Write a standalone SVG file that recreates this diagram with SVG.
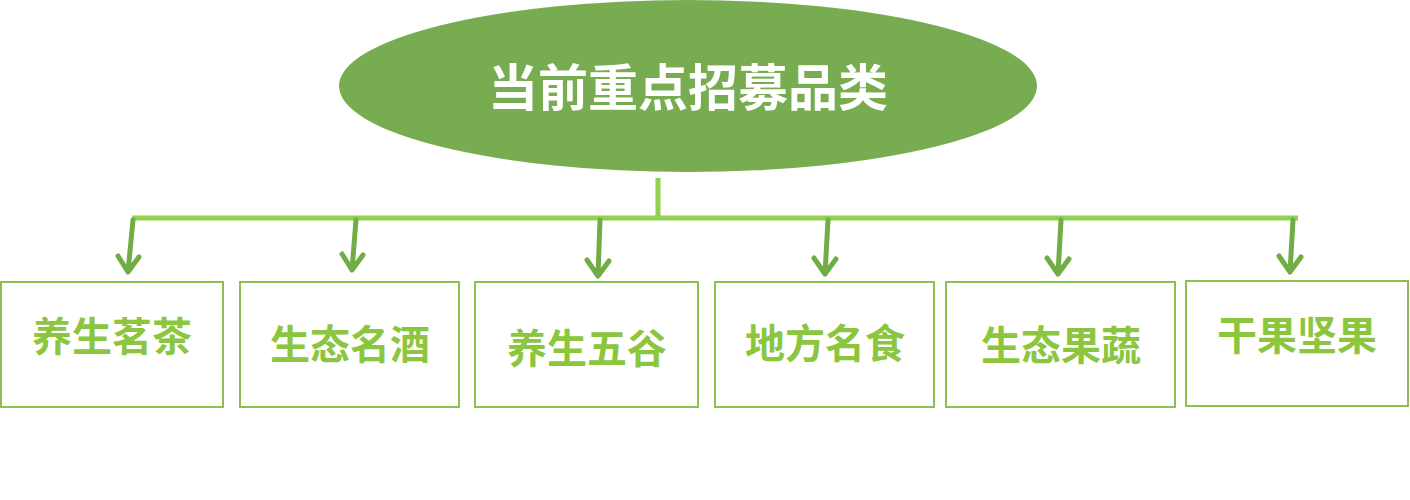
<svg xmlns="http://www.w3.org/2000/svg" width="1410" height="500" viewBox="0 0 1410 500">
<style>
.box{fill:#fff;stroke:#8CC152;stroke-width:2}
.lbl{font-family:"Noto Sans CJK SC",sans-serif;font-weight:bold;font-size:40px;fill:#8CC63F;text-anchor:middle}
.ln{stroke:#92D050;stroke-width:5;fill:none}
.ar{stroke:#70AD47;stroke-width:5;fill:none;stroke-linecap:round;stroke-linejoin:round}
</style>
<rect width="1410" height="500" fill="#fff"/>
<g id="root"><ellipse cx="688" cy="86" rx="349" ry="86" fill="#77AC50"/>
<text x="688" y="106" font-family="Noto Sans CJK SC,sans-serif" font-weight="bold" font-size="50" fill="#fff" text-anchor="middle">当前重点招募品类</text></g>
<g id="connectors">
<path class="ln" d="M658 178V218M132 218H1298"/>
<path class="ar" d="M133 220L128 272M118 256L128 272L139 257"/>
<path class="ar" d="M356 220L352 270M342 254L352 270L363 255"/>
<path class="ar" d="M600 220L598 276M587 260L598 276L609 261"/>
<path class="ar" d="M828 220L825 274M814 258L825 274L836 259"/>
<path class="ar" d="M1061 220L1058 274M1047 258L1058 274L1069 259"/>
<path class="ar" d="M1293 220L1290 272M1279 256L1290 272L1301 257"/>
</g>
<g id="n1"><rect class="box" x="1" y="282" width="222" height="125"/><text class="lbl" x="112" y="351">养生茗茶</text></g>
<g id="n2"><rect class="box" x="240" y="282" width="219" height="125"/><text class="lbl" x="350" y="359">生态名酒</text></g>
<g id="n3"><rect class="box" x="475" y="282" width="223" height="125"/><text class="lbl" x="587" y="363">养生五谷</text></g>
<g id="n4"><rect class="box" x="715" y="282" width="219" height="125"/><text class="lbl" x="825" y="358">地方名食</text></g>
<g id="n5"><rect class="box" x="946" y="282" width="229" height="125"/><text class="lbl" x="1061" y="360">生态果蔬</text></g>
<g id="n6"><rect class="box" x="1186" y="281" width="222" height="125"/><text class="lbl" x="1297" y="350">干果坚果</text></g>
</svg>
